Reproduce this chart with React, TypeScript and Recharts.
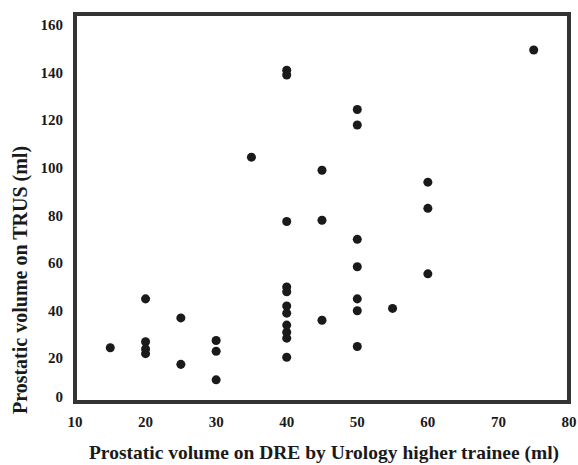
import React from 'react';
import { ScatterChart, Scatter, XAxis, YAxis, ReferenceArea, Label } from 'recharts';

// DRE estimate (x) and TRUS measurement (y), one entry per patient
const dreVolume = [
  15,
  20, 20, 20, 20,
  25, 25,
  30, 30, 30,
  35,
  40, 40, 40, 40, 40, 40, 40, 40, 40, 40, 40,
  45, 45, 45,
  50, 50, 50, 50, 50, 50, 50,
  55,
  60, 60, 60,
  75,
];
const trusVolume = [
  24.5,
  45, 27, 24, 22,
  37, 17.5,
  27.5, 23, 11,
  104.5,
  141, 139, 77.5, 50, 48, 42, 39, 34, 31, 28.5, 20.5,
  99, 78, 36,
  124.5, 118, 70, 58.5, 45, 40, 25,
  41,
  94, 83, 55.5,
  149.5,
];

const xTicks = [10, 20, 30, 40, 50, 60, 70, 80];
const yTicks = [0, 20, 40, 60, 80, 100, 120, 140, 160];

const data = dreVolume.map((x, i) => ({ x, y: trusVolume[i] }));

const font = '"Liberation Serif", "Times New Roman", serif';
const ink = '#1a1a1a';

const YTick = (props: any) => {
  const { x, y, payload } = props;
  return (
    <text
      x={x}
      y={Math.min(y, 397)}
      textAnchor="end"
      dominantBaseline="central"
      fontFamily={font}
      fontWeight="bold"
      fontSize={15}
      fill={ink}
    >
      {payload.value}
    </text>
  );
};

const YTitle = () => (
  <text
    x={20}
    y={280}
    transform="rotate(-90, 20, 280)"
    textAnchor="middle"
    dominantBaseline="central"
    fontFamily={font}
    fontWeight="bold"
    fontSize={20}
    fill={ink}
  >
    Prostatic volume on TRUS (ml)
  </text>
);

const XTitle = () => (
  <text
    x={324}
    y={452}
    textAnchor="middle"
    dominantBaseline="central"
    fontFamily={font}
    fontWeight="bold"
    fontSize={19.5}
    fill={ink}
  >
    Prostatic volume on DRE by Urology higher trainee (ml)
  </text>
);

export default function App() {
  return (
    <div style={{ position: 'absolute', left: 0, top: 0, background: '#fff' }}>
      <ScatterChart width={578} height={465} margin={{ top: 14, right: 9, left: 0, bottom: 0 }}>
        <XAxis
          type="number"
          dataKey="x"
          domain={[10, 80]}
          ticks={xTicks}
          height={63}
          axisLine={false}
          tickLine={false}
          tickMargin={8}
          tick={{ fill: ink, fontFamily: font, fontWeight: 'bold', fontSize: 15 }}
        >
          <Label content={<XTitle />} />
        </XAxis>
        <YAxis
          type="number"
          dataKey="y"
          domain={[1.7, 164.6]}
          ticks={yTicks}
          allowDataOverflow
          width={75}
          axisLine={false}
          tickLine={false}
          tickMargin={6}
          tick={<YTick />}
        >
          <Label content={<YTitle />} />
        </YAxis>
        <ReferenceArea
          x1={10}
          x2={80}
          y1={1.7}
          y2={164.6}
          fill="none"
          stroke="#333"
          strokeWidth={4}
          ifOverflow="visible"
        />
        <Scatter data={data} fill={ink} isAnimationActive={false} />
      </ScatterChart>
    </div>
  );
}
